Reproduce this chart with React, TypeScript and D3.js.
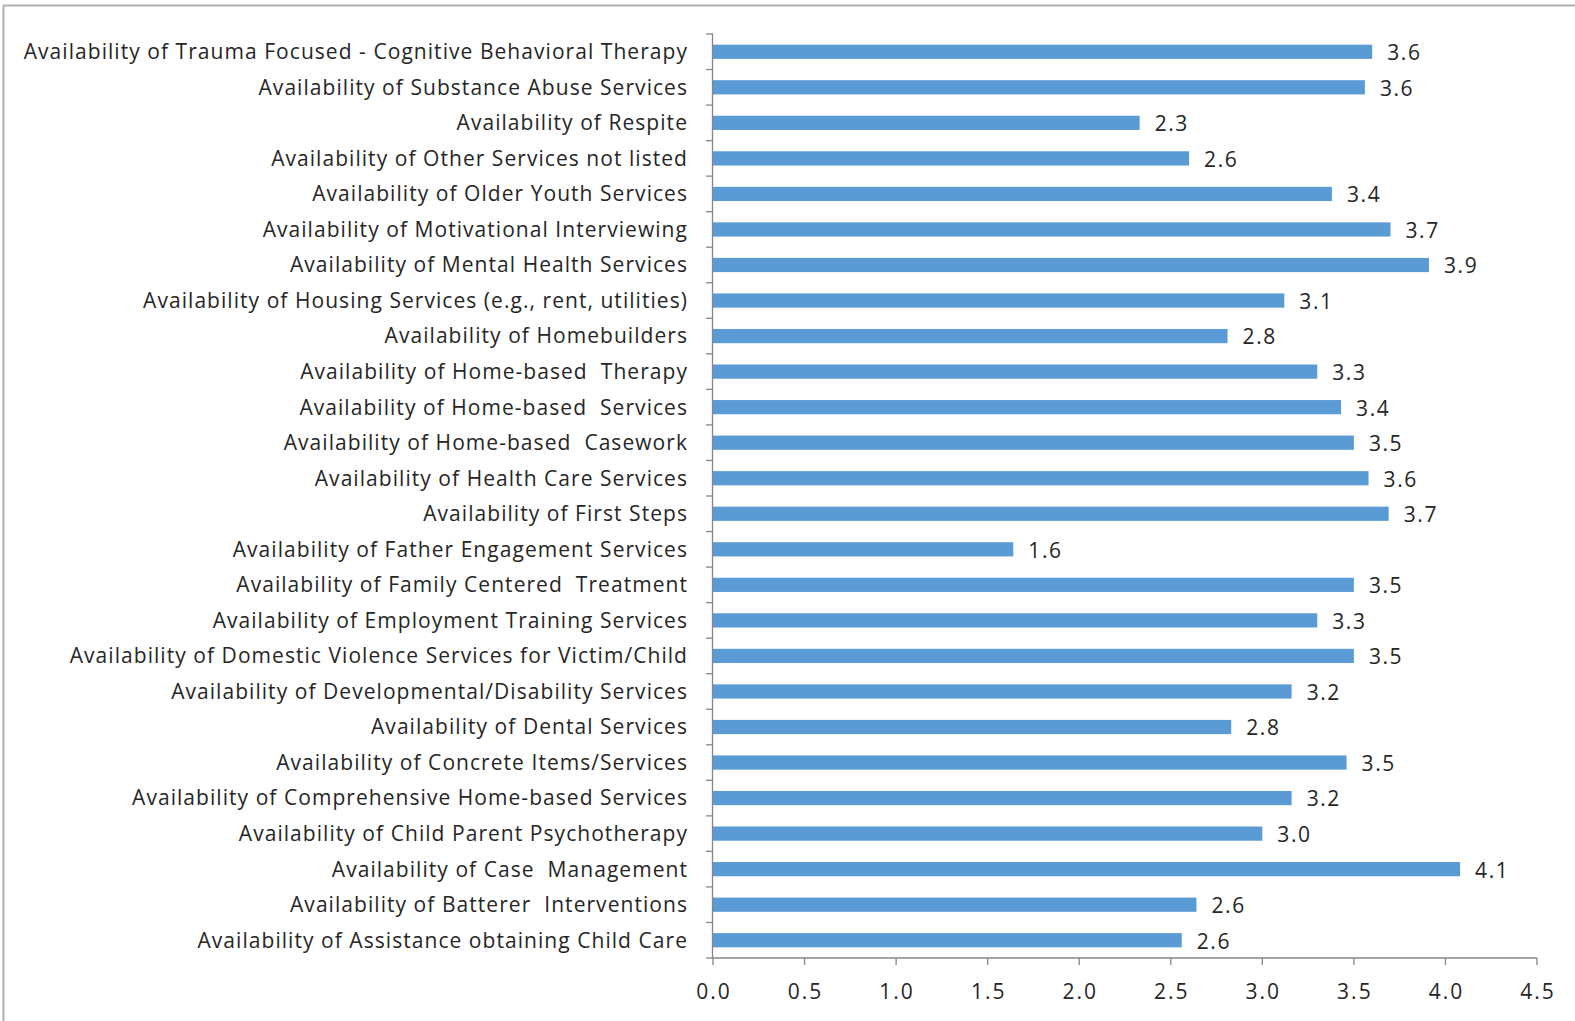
import React from "react";
import * as d3 from "d3";

const categories: string[] = [
  "Availability of Trauma Focused - Cognitive Behavioral Therapy",
  "Availability of Substance Abuse Services",
  "Availability of Respite",
  "Availability of Other Services not listed",
  "Availability of Older Youth Services",
  "Availability of Motivational Interviewing",
  "Availability of Mental Health Services",
  "Availability of Housing Services (e.g., rent, utilities)",
  "Availability of Homebuilders",
  "Availability of Home-based  Therapy",
  "Availability of Home-based  Services",
  "Availability of Home-based  Casework",
  "Availability of Health Care Services",
  "Availability of First Steps",
  "Availability of Father Engagement Services",
  "Availability of Family Centered  Treatment",
  "Availability of Employment Training Services",
  "Availability of Domestic Violence Services for Victim/Child",
  "Availability of Developmental/Disability Services",
  "Availability of Dental Services",
  "Availability of Concrete Items/Services",
  "Availability of Comprehensive Home-based Services",
  "Availability of Child Parent Psychotherapy",
  "Availability of Case  Management",
  "Availability of Batterer  Interventions",
  "Availability of Assistance obtaining Child Care",
];

const values: number[] = [
  3.6, 3.56, 2.33, 2.6, 3.38, 3.7, 3.91, 3.12, 2.81, 3.3, 3.43, 3.5, 3.58,
  3.69, 1.64, 3.5, 3.3, 3.5, 3.16, 2.83, 3.46, 3.16, 3.0, 4.08, 2.64, 2.56,
];

const xTicks: number[] = [0, 0.5, 1, 1.5, 2, 2.5, 3, 3.5, 4, 4.5];

const W = 1575;
const H = 1021;
const FONT = "'Open Sans', sans-serif";
const TEXT = "#262626";
const AXIS = "#868686";
const BAR = "#5B9BD5";

export default function App() {
  const x = d3.scaleLinear().domain([0, 4.5]).range([713, 1537]);
  const y = d3
    .scaleBand<string>()
    .domain(categories)
    .range([34, 958])
    .paddingInner(0.6)
    .paddingOuter(0.3);
  const step = y.step();
  const fmt = d3.format(".1f");
  const x0 = x(0);
  const yBottom = 958;

  return (
    <div style={{ position: "absolute", left: 0, top: 0 }}>
      <svg width={W} height={H} style={{ display: "block", background: "#fff", fontVariantLigatures: "none" }}>
        {/* frame */}
        <line x1={3.5} y1={5} x2={3.5} y2={H} stroke="#b0b0b0" strokeWidth={2} />
        <line x1={3} y1={5.5} x2={W} y2={5.5} stroke="#b0b0b0" strokeWidth={2} />

        {/* bars */}
        {categories.map((c, i) => (
          <rect
            key={c}
            x={x0}
            y={y(c)!}
            width={x(values[i]) - x0}
            height={y.bandwidth()}
            fill={BAR}
          />
        ))}

        {/* value labels */}
        {categories.map((c, i) => (
          <text
            key={"v" + c}
            x={x(values[i]) + 15}
            y={y(c)! + y.bandwidth() / 2 + 1}
            dy="0.35em"
            fontFamily={FONT}
            fontSize={21}
            letterSpacing={1.6}
            fill={TEXT}
          >
            {fmt(values[i])}
          </text>
        ))}

        {/* y axis */}
        <line x1={x0 - 0.5} y1={34} x2={x0 - 0.5} y2={yBottom} stroke={AXIS} strokeWidth={1.3} />
        {d3.range(categories.length + 1).map((i) => (
          <line
            key={"yt" + i}
            x1={x0 - 7}
            x2={x0}
            y1={34 + i * step}
            y2={34 + i * step}
            stroke={AXIS}
            strokeWidth={1.3}
          />
        ))}
        {categories.map((c) => (
          <text
            key={"l" + c}
            x={688}
            y={y(c)! + y.bandwidth() / 2}
            dy="0.35em"
            textAnchor="end"
            fontFamily={FONT}
            fontSize={21}
            letterSpacing={1.05}
            fill={TEXT}
            style={{ whiteSpace: "pre" }}
          >
            {c}
          </text>
        ))}

        {/* x axis */}
        <line x1={x0 - 0.5} y1={yBottom} x2={x(4.5)} y2={yBottom} stroke={AXIS} strokeWidth={1.3} />
        {xTicks.map((t) => (
          <g key={"xt" + t}>
            <line x1={x(t)} x2={x(t)} y1={yBottom} y2={yBottom + 7} stroke={AXIS} strokeWidth={1.3} />
            <text
              x={x(t) + 1}
              y={992}
              dy="0.35em"
              textAnchor="middle"
              fontFamily={FONT}
              fontSize={21}
              letterSpacing={2}
              fill={TEXT}
            >
              {fmt(t)}
            </text>
          </g>
        ))}
      </svg>
    </div>
  );
}
